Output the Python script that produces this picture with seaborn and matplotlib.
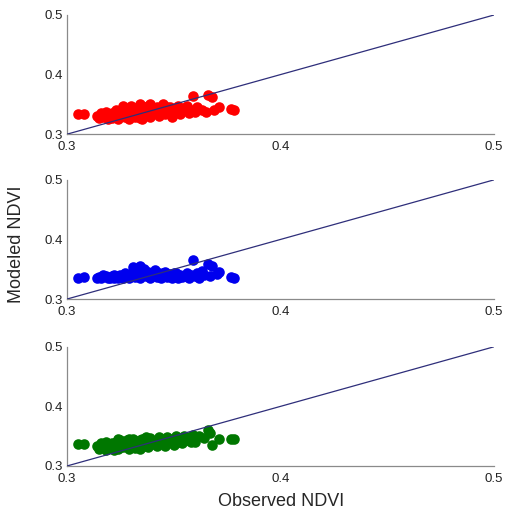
import matplotlib
matplotlib.use("Agg")
import matplotlib.pyplot as plt
import seaborn as sns
import pandas as pd

# ---- data ----
red_obs = [0.305, 0.308, 0.314, 0.315, 0.316, 0.317, 0.318, 0.319, 0.320, 0.321,
           0.322, 0.323, 0.323, 0.324, 0.325, 0.325, 0.326, 0.327, 0.327, 0.328,
           0.329, 0.330, 0.330, 0.331, 0.332, 0.332, 0.333, 0.334, 0.334, 0.335,
           0.336, 0.336, 0.337, 0.338, 0.339, 0.339, 0.340, 0.341, 0.342, 0.343,
           0.343, 0.344, 0.345, 0.346, 0.347, 0.348, 0.349, 0.350, 0.351, 0.352,
           0.353, 0.354, 0.355, 0.357, 0.358, 0.359, 0.360, 0.361, 0.363, 0.365,
           0.366, 0.368, 0.369, 0.371, 0.377, 0.378,
           0.318, 0.321, 0.326, 0.329, 0.335, 0.338, 0.341, 0.344, 0.347, 0.352, 0.356]
red_mod = [0.334, 0.334, 0.330, 0.327, 0.336, 0.329, 0.332, 0.326, 0.331, 0.335,
           0.328, 0.333, 0.340, 0.326, 0.330, 0.337, 0.343, 0.328, 0.334, 0.339,
           0.326, 0.331, 0.347, 0.337, 0.329, 0.344, 0.334, 0.350, 0.327, 0.340,
           0.331, 0.346, 0.336, 0.343, 0.328, 0.350, 0.333, 0.340, 0.346, 0.330,
           0.337, 0.343, 0.350, 0.333, 0.339, 0.345, 0.329, 0.337, 0.343, 0.348,
           0.333, 0.339, 0.344, 0.335, 0.341, 0.364, 0.338, 0.346, 0.341, 0.337,
           0.365, 0.362, 0.340, 0.345, 0.342, 0.341,
           0.338, 0.327, 0.348, 0.335, 0.326, 0.348, 0.344, 0.336, 0.346, 0.339, 0.347]

blue_obs = [0.305, 0.308, 0.314, 0.315, 0.316, 0.318, 0.319, 0.320, 0.321, 0.322,
            0.323, 0.324, 0.325, 0.326, 0.327, 0.328, 0.329, 0.330, 0.331, 0.331,
            0.332, 0.333, 0.334, 0.334, 0.335, 0.336, 0.337, 0.338, 0.339, 0.340,
            0.341, 0.342, 0.343, 0.344, 0.345, 0.346, 0.347, 0.348, 0.349, 0.350,
            0.351, 0.352, 0.353, 0.354, 0.355, 0.356, 0.357, 0.358, 0.359, 0.360,
            0.361, 0.362, 0.364, 0.366, 0.367, 0.368, 0.370, 0.371, 0.377, 0.378,
            0.317, 0.322, 0.327, 0.333, 0.336, 0.339, 0.345, 0.350, 0.356, 0.363]
blue_mod = [0.335, 0.337, 0.335, 0.337, 0.335, 0.338, 0.335, 0.336, 0.339, 0.335,
            0.338, 0.336, 0.340, 0.335, 0.337, 0.341, 0.336, 0.339, 0.353, 0.344,
            0.337, 0.347, 0.355, 0.336, 0.342, 0.350, 0.338, 0.345, 0.336, 0.341,
            0.348, 0.337, 0.344, 0.336, 0.340, 0.346, 0.337, 0.342, 0.335, 0.339,
            0.344, 0.336, 0.341, 0.337, 0.338, 0.343, 0.336, 0.340, 0.366, 0.338,
            0.344, 0.336, 0.341, 0.359, 0.338, 0.356, 0.342, 0.345, 0.337, 0.335,
            0.340, 0.340, 0.344, 0.341, 0.345, 0.343, 0.344, 0.343, 0.340, 0.347]

green_obs = [0.305, 0.308, 0.314, 0.315, 0.316, 0.317, 0.318, 0.319, 0.320, 0.321,
             0.322, 0.323, 0.323, 0.324, 0.325, 0.325, 0.326, 0.327, 0.328, 0.329,
             0.330, 0.330, 0.331, 0.332, 0.333, 0.334, 0.334, 0.335, 0.336, 0.337,
             0.338, 0.339, 0.340, 0.341, 0.342, 0.343, 0.344, 0.345, 0.346, 0.347,
             0.348, 0.349, 0.350, 0.351, 0.352, 0.353, 0.354, 0.355, 0.356, 0.357,
             0.358, 0.359, 0.360, 0.362, 0.364, 0.366, 0.367, 0.368, 0.371, 0.377, 0.378,
             0.318, 0.324, 0.329, 0.337, 0.343, 0.349, 0.355, 0.360]
green_mod = [0.337, 0.336, 0.333, 0.328, 0.338, 0.331, 0.327, 0.335, 0.330, 0.338,
             0.326, 0.334, 0.341, 0.329, 0.336, 0.343, 0.331, 0.338, 0.344, 0.328,
             0.334, 0.341, 0.345, 0.330, 0.337, 0.343, 0.328, 0.346, 0.334, 0.340,
             0.331, 0.347, 0.336, 0.342, 0.333, 0.348, 0.338, 0.344, 0.333, 0.349,
             0.340, 0.345, 0.335, 0.350, 0.341, 0.346, 0.338, 0.351, 0.343, 0.348,
             0.340, 0.352, 0.346, 0.350, 0.347, 0.360, 0.355, 0.335, 0.345, 0.346, 0.345,
             0.341, 0.345, 0.346, 0.348, 0.344, 0.341, 0.345, 0.341]

series_colors = ["#ff0000", "#0000ee", "#007700"]
line_x = [0.3, 0.5]
line_y = [0.3, 0.5]
ticks = [0.3, 0.4, 0.5]
tick_labels = ["0.3", "0.4", "0.5"]
x_label = "Observed NDVI"
y_label = "Modeled NDVI"

sns.set_style("white")
plt.rcParams["font.family"] = ["Liberation Sans", "DejaVu Sans"]

fig = plt.figure(figsize=(5.12, 5.16), dpi=100)
left, width = 0.131, 0.834
panels = [(0.740, 0.231), (0.4205, 0.231), (0.097, 0.231)]
datasets = [(red_obs, red_mod), (blue_obs, blue_mod), (green_obs, green_mod)]

for (bottom, height), (obs, mod), col in zip(panels, datasets, series_colors):
    ax = fig.add_axes([left, bottom, width, height])
    df = pd.DataFrame({"obs": obs, "mod": mod})
    ax.plot(line_x, line_y, color="#2e2e7a", lw=0.9, zorder=3)
    sns.scatterplot(data=df, x="obs", y="mod", color=col, s=58, linewidth=0,
                    ax=ax, zorder=2)
    ax.set_xlim(0.3, 0.5)
    ax.set_ylim(0.3, 0.5)
    ax.set_xticks(ticks)
    ax.set_xticklabels(tick_labels)
    ax.set_yticks(ticks)
    ax.set_yticklabels(tick_labels)
    ax.set_xlabel("")
    ax.set_ylabel("")
    for s in ["top", "right"]:
        ax.spines[s].set_visible(False)
    for s in ["left", "bottom"]:
        ax.spines[s].set_color("#8a8a8a")
        ax.spines[s].set_linewidth(0.9)
    ax.tick_params(axis="both", direction="in", length=3, width=0.8,
                   color="#8a8a8a", labelsize=9.5, labelcolor="#222222", pad=3)
    ax.tick_params(axis="x", pad=5)

fig.text(0.033, 0.527, y_label, rotation=90, ha="center", va="center", fontsize=13)
fig.text(0.549, 0.028, x_label, ha="center", va="center", fontsize=13)

fig.savefig("out.png", dpi=100)
